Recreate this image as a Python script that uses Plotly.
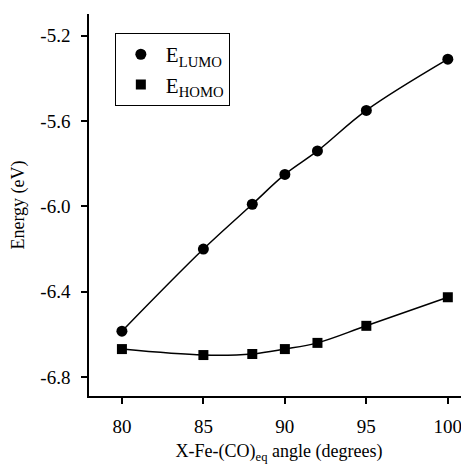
import plotly.graph_objects as go

angles = [80, 85, 88, 90, 92, 95, 100]
e_lumo = [-6.585, -6.20, -5.99, -5.85, -5.74, -5.55, -5.31]
e_homo = [-6.669, -6.697, -6.692, -6.669, -6.64, -6.56, -6.426]
x_ticks = [80, 85, 90, 95, 100]
y_ticks = [-5.2, -5.6, -6.0, -6.4, -6.8]
y_tick_labels = ["-5.2", "-5.6", "-6.0", "-6.4", "-6.8"]

font = dict(family="Liberation Serif, Times New Roman, serif", color="black")

fig = go.Figure()
# smooth curves (no legend entry)
for ys in (e_lumo, e_homo):
    fig.add_trace(go.Scatter(
        x=angles, y=ys, mode="lines", showlegend=False, hoverinfo="skip",
        line=dict(color="black", width=1.5, shape="spline"),
    ))
# markers (legend entries)
fig.add_trace(go.Scatter(
    x=angles, y=e_lumo, mode="markers", name="E<sub>LUMO</sub>",
    marker=dict(symbol="circle", size=11, color="black"),
))
fig.add_trace(go.Scatter(
    x=angles, y=e_homo, mode="markers", name="E<sub>HOMO</sub>",
    marker=dict(symbol="square", size=10, color="black"),
))

fig.update_layout(
    width=461, height=463,
    margin=dict(l=81, r=0, t=6, b=75),
    paper_bgcolor="white", plot_bgcolor="white",
    font=dict(size=19, **font),
    showlegend=True,
    legend=dict(
        x=0.068, y=0.95, xanchor="left", yanchor="top",
        bordercolor="black", borderwidth=1, bgcolor="white",
        font=dict(size=21, **font),
        itemwidth=40, tracegroupgap=0,
    ),
    xaxis=dict(
        range=[77.98, 101.3], tickvals=x_ticks, showgrid=False, zeroline=False,
        showline=True, linecolor="black", linewidth=1.5,
        ticks="outside", ticklen=6, tickcolor="black", tickwidth=1.5,
        ticklabelstandoff=6,
        tickfont=dict(size=19, **font),
        title=dict(text="X-Fe-(CO)<sub>eq</sub> angle (degrees)", font=dict(size=18, **font), standoff=9),
    ),
    yaxis=dict(
        range=[-6.889, -5.098], tickvals=y_ticks, ticktext=y_tick_labels,
        showgrid=False, zeroline=False,
        showline=True, linecolor="black", linewidth=1.5,
        ticks="outside", ticklen=6, tickcolor="black", tickwidth=1.5,
        ticklabelstandoff=7,
        tickfont=dict(size=19, **font),
        title=dict(text="Energy (eV)", font=dict(size=18, **font), standoff=11),
    ),
)

fig.write_html("out.html")
